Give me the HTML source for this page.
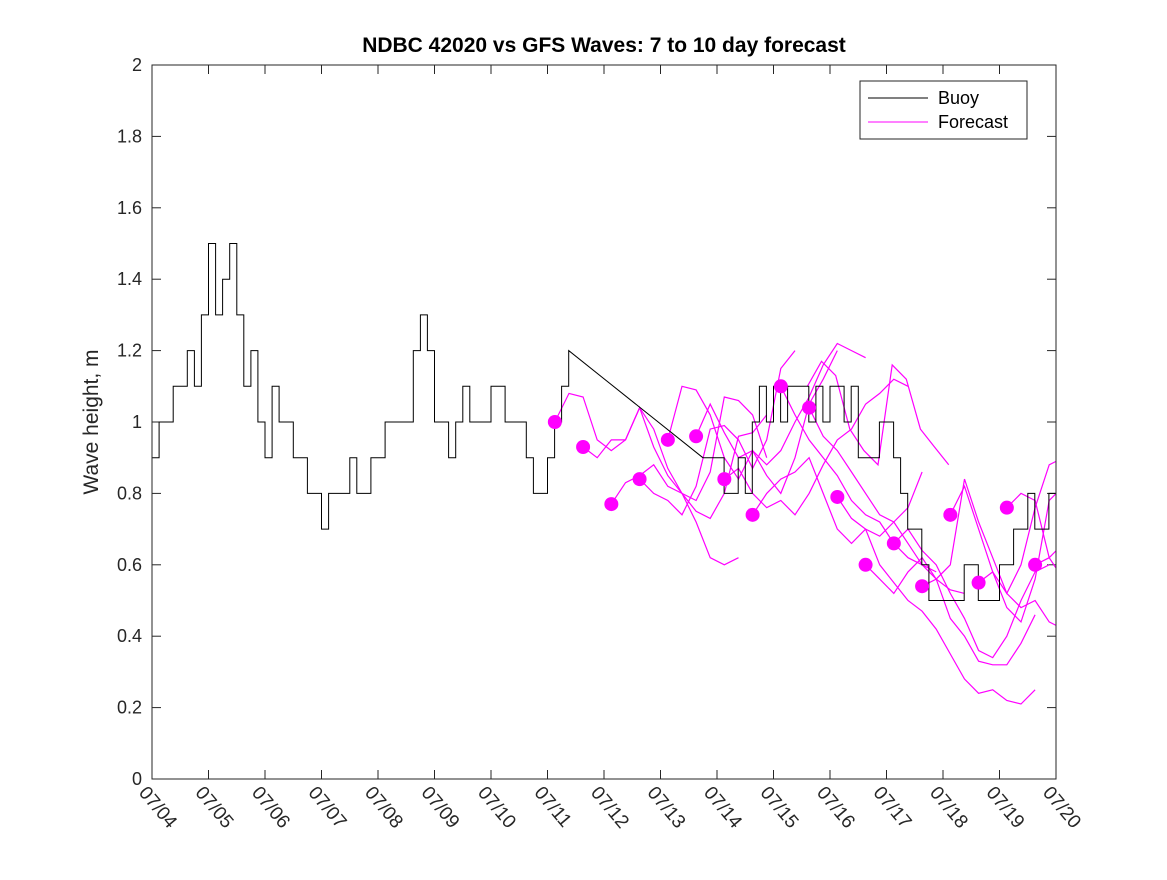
<!DOCTYPE html>
<html><head><meta charset="utf-8"><style>
body{margin:0;background:#fff;}
svg text{font-family:"Liberation Sans","DejaVu Sans",sans-serif;}
</style></head><body>
<svg id="chart" width="1167" height="875" xmlns="http://www.w3.org/2000/svg">
<defs><clipPath id="plotclip"><rect x="152" y="65" width="904" height="714"/></clipPath></defs>
<rect width="1167" height="875" fill="#fff"/>
<text x="604" y="52" text-anchor="middle" font-size="21" font-weight="bold" fill="#000">NDBC 42020 vs GFS Waves: 7 to 10 day forecast</text>
<text transform="translate(98,422) rotate(-90)" text-anchor="middle" font-size="21" fill="#262626">Wave height, m</text>
<g id="axes"></g>
<g id="series" clip-path="url(#plotclip)"></g>
<rect x="152" y="65" width="904" height="714" fill="none" stroke="#262626" stroke-width="1"/>
<g>
<rect x="860" y="81" width="167" height="58" fill="#fff" stroke="#262626"/>
<line x1="868" y1="98" x2="928" y2="98" stroke="#000"/>
<text x="938" y="104" font-size="18" fill="#000">Buoy</text>
<line x1="868" y1="122" x2="928" y2="122" stroke="#f0f"/>
<text x="938" y="128" font-size="18" fill="#000">Forecast</text>
</g>
</svg>
<script>
const xTickLabels=["07/04","07/05","07/06","07/07","07/08","07/09","07/10","07/11","07/12","07/13","07/14","07/15","07/16","07/17","07/18","07/19","07/20"];
const yTicks=[0,0.2,0.4,0.6,0.8,1,1.2,1.4,1.6,1.8,2];
const buoyStart1=4.0;
const buoyVals1=[0.9,1.0,1.0,1.1,1.1,1.2,1.1,1.3, 1.5,1.3,1.4,1.5,1.3,1.1,1.2,1.0, 0.9,1.1,1.0,1.0,0.9,0.9,0.8,0.8, 0.7,0.8,0.8,0.8,0.9,0.8,0.8,0.9, 0.9,1.0,1.0,1.0,1.0,1.2,1.3,1.2, 1.0,1.0,0.9,1.0,1.1,1.0,1.0,1.0, 1.1,1.1,1.0,1.0,1.0,0.9,0.8,0.8, 0.9,1.0,1.1,1.2];
const buoyStart2=13.75;
const buoyVals2=[0.9,0.9, 0.9,0.8,0.8,0.9,0.8,1.0,1.1,1.0, 1.1,1.0,1.1,1.1,1.1,1.0,1.1,1.0, 1.1,1.1,1.0,1.1,0.9,0.9,0.9,1.0, 1.0,0.9,0.8,0.7,0.7,0.6,0.5,0.5, 0.5,0.5,0.5,0.6,0.6,0.5,0.5,0.5, 0.6,0.6,0.7,0.7,0.8,0.7,0.7,0.8,0.8];
const dotTimes=[11.13,11.63,12.13,12.63,13.13,13.63,14.13,14.63,15.13,15.63,16.13,16.63,17.13,17.63,18.13,18.63,19.13,19.63];
const dotVals=[1.00,0.93,0.77,0.84,0.95,0.96,0.84,0.74,1.10,1.04,0.79,0.60,0.66,0.54,0.74,0.55,0.76,0.60];
const fcA=[1.00,1.08,1.07,0.95,0.92,0.95,1.04,0.93,0.85,0.80,0.72,0.62,0.60,0.62];
const fcB=[0.93,0.90,0.95,0.95,1.04,0.98,0.87,0.80,0.75,0.73,0.80,0.96,0.97,1.02];
const fcC=[0.77,0.83,0.85,0.88,0.82,0.80,0.78,0.86,1.07,1.06,1.02,0.90];
const fcD=[0.84,0.80,0.78,0.74,0.82,0.98,0.99,0.95,0.87,0.95,1.15,1.20];
const fcE=[0.95,1.10,1.09,1.02,0.90,0.84,0.92,0.85,0.80,0.90,1.05,1.12,1.20];
const fcF=[0.96,1.05,0.97,0.90,0.92,0.88,0.92,1.00,1.07,1.16,1.22,1.20,1.18];
const fcG=[0.84,0.87,0.80,0.76,0.78,0.74,0.80,0.88,0.95,0.98,1.05,1.08,1.12,1.10];
const fcH=[0.74,0.80,0.84,0.86,0.90,0.80,0.70,0.66,0.70,0.68,0.72,0.76,0.86];
const fcI=[1.10,1.02,0.95,0.90,0.85,0.78,0.74,0.72,0.66,0.62,0.60,0.58];
const fcJ=[1.04,0.96,0.92,0.86,0.80,0.74,0.72,0.66,0.60,0.56,0.53,0.52];
const fcK=[0.79,0.73,0.70,0.60,0.55,0.50,0.47,0.42,0.35,0.28,0.24,0.25,0.22,0.21,0.25];
const fcL=[0.60,0.56,0.52,0.58,0.62,0.56,0.45,0.40,0.33,0.32,0.32,0.38,0.46];
const fcM=[0.66,0.70,0.64,0.60,0.52,0.45,0.36,0.34,0.40,0.50,0.58,0.60];
const fcN=[0.54,0.56,0.60,0.84,0.72,0.62,0.52,0.48,0.50,0.44,0.42,0.50];
const fcO=[0.74,0.82,0.70,0.58,0.48,0.44,0.56,0.78,0.82,0.78,0.72,0.80];
const fcP=[0.55,0.58,0.52,0.60,0.76,0.88,0.90,0.86,0.85,0.86,0.90];
const fcQ=[0.76,0.80,0.78,0.62,0.56,0.58,0.62,0.66,0.68];
const fcR=[0.60,0.62,0.66,0.68];
const fcS=[1.10,1.17,1.13,0.98,0.92,0.88,1.16,1.12,0.98,0.93,0.88];
const fcStarts=[11.13,11.63,12.13,12.63,13.13,13.63,14.13,14.63,15.13,15.63,16.13,16.63,17.13,17.63,18.13,18.63,19.13,19.63,15.6];
const forecasts=[fcA,fcB,fcC,fcD,fcE,fcF,fcG,fcH,fcI,fcJ,fcK,fcL,fcM,fcN,fcO,fcP,fcQ,fcR,fcS];
const fcStep=0.25;

const NS="http://www.w3.org/2000/svg";
const X0=152,X1=1056,Y0=779,Y1=65;
const xs=d=>X0+(d-4)/16*(X1-X0);
const ys=v=>Y0-v/2*(Y0-Y1);
const axes=document.getElementById('axes'),series=document.getElementById('series');
function mk(tag,attrs,parent){const e=document.createElementNS(NS,tag);for(const k in attrs)e.setAttribute(k,attrs[k]);parent.appendChild(e);return e;}
xTickLabels.forEach((l,i)=>{const x=xs(4+i);
 const t1=mk('line',{x1:x,y1:Y0,x2:x,y2:Y0-9,stroke:'#262626'},axes);
 
 
 mk('line',{x1:x,y1:Y1,x2:x,y2:Y1+9,stroke:'#262626'},axes);
 const t=mk('text',{x:0,y:0,'font-size':'19',fill:'#262626',transform:`translate(${x-14},${Y0+14}) rotate(50)`},axes);
 t.textContent=l;
 
 
});
yTicks.forEach(v=>{const y=ys(v);
 const t1=mk('line',{x1:X0,y1:y,x2:X0+9,y2:y,stroke:'#262626'},axes);
 
 
 mk('line',{x1:X1,y1:y,x2:X1-9,y2:y,stroke:'#262626'},axes);
 const t=mk('text',{x:X0-10,y:y+6,'text-anchor':'end','font-size':'18',fill:'#262626'},axes);
 t.textContent=String(v);
 
 
});
forecasts.forEach((arr,k)=>{const pts=arr.map((v,i)=>xs(fcStarts[k]+i*fcStep).toFixed(1)+','+ys(v).toFixed(1)).join(' ');
 const p=mk('polyline',{points:pts,fill:'none',stroke:'#f0f','stroke-width':'1.2'},series);
 
 
});
function stairs(start,vals){const step=0.125;let pts=[];vals.forEach((v,i)=>{const x=xs(start+i*step);if(i>0)pts.push(x.toFixed(1)+','+ys(vals[i-1]).toFixed(1));pts.push(x.toFixed(1)+','+ys(v).toFixed(1));});return pts;}
const p1=stairs(buoyStart1,buoyVals1),p2=stairs(buoyStart2,buoyVals2);
const bl=mk('polyline',{points:p1.concat(p2).join(' '),fill:'none',stroke:'#000','stroke-width':'1'},series);


dotTimes.forEach((t,i)=>{const c=mk('circle',{cx:xs(t),cy:ys(dotVals[i]),r:7,fill:'#f0f'},series);
 
 
});
</script>
</body></html>
